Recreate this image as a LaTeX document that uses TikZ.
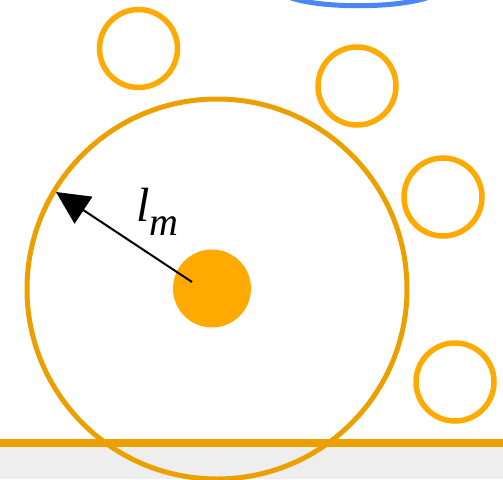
\documentclass[tikz,border=0pt]{standalone}
\usepackage{fontspec}
\setmainfont{Liberation Serif}
\usetikzlibrary{arrows.meta}
\definecolor{orA}{HTML}{FFAA00}
\definecolor{orB}{HTML}{EBA000}
\definecolor{blu}{HTML}{4A86F5}
\definecolor{gr}{HTML}{EEEEEE}
\tikzset{
  small/.style={circle, draw=orA, line width=5.5pt, minimum size=78pt, inner sep=0pt},
  big/.style={circle, draw=orB, line width=5pt, minimum size=380pt, inner sep=0pt},
  dot/.style={circle, fill=orA, minimum size=78pt, inner sep=0pt},
  lbl/.style={inner sep=0pt, anchor=base west},
}
\begin{document}
\begin{tikzpicture}[x=1pt,y=-1pt]
\useasboundingbox (0,0) rectangle (503,479);
\clip (0,0) rectangle (503,479);
\fill[gr] (0,443) rectangle (503,479);
\draw[blu, line width=5pt] (286,-4) .. controls (316,9) and (400,9) .. (432,-4);
\node[big] (B) at (217,289) {};
\draw[orB, line width=8pt] (0,443) -- (503,443);
\node[small] (s1) at (138.5,48.5) {};
\node[small] (s2) at (357,86) {};
\node[small] (s3) at (443,197) {};
\node[small] (s4) at (455,382) {};
\node[dot] (D) at (212,288.5) {};
\coordinate (a0) at (192,282);
\coordinate (a1) at (56,192);
\draw[line width=2pt, -{Triangle[length=33pt,width=32pt]}] (a0) -- (a1);
\node[lbl, font=\fontsize{48}{48}\selectfont\itshape] (L) at (136,221) {l};
\node[lbl, font=\fontsize{40}{40}\selectfont\itshape] (M) at (149,235) {m};
\end{tikzpicture}
\end{document}
